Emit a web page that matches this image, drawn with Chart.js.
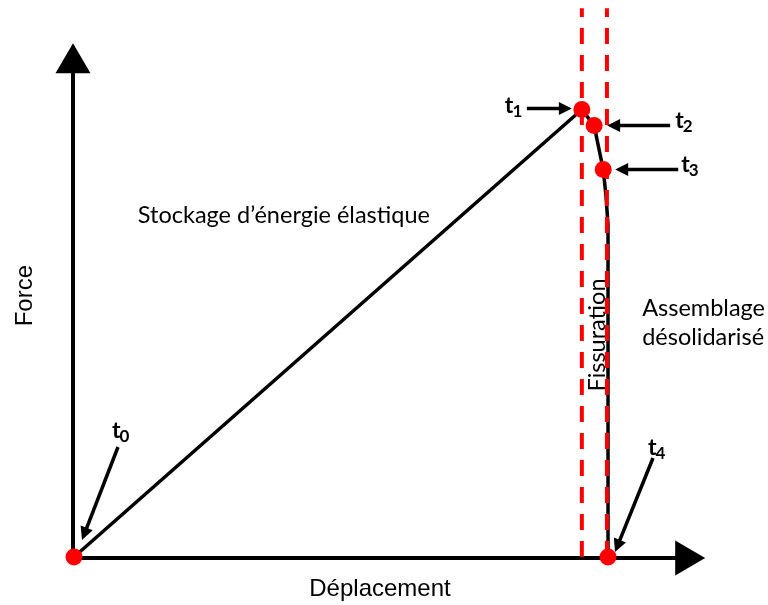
<!DOCTYPE html>
<html>
<head>
<meta charset="utf-8">
<script src="https://cdn.jsdelivr.net/npm/chart.js@4/dist/chart.umd.min.js"></script>
<style>
  html, body { margin: 0; padding: 0; background: #fff; }
  #wrap { width: 768px; height: 605px; }
</style>
</head>
<body>
<div id="wrap"><canvas id="c" width="768" height="605"></canvas></div>
<script>
// ---- Data (schematic, displacement and force in % of t4 / t1) ----
const displacement = [0, 95.1, 97.4, 99.1, 99.6, 100, 100];
const force        = [0, 100, 96.4, 86.6, 81.0, 74.3, 0];
const keyIndex     = [0, 1, 2, 3, 6];            // points t0..t4 on the curve
const keyLabels    = ['t0', 't1', 't2', 't3', 't4'];
const crackBounds  = [95.1, 99.8];               // "Fissuration" zone limits (displacement)
const axisEnds     = { x: 118.2, y: 114.8 };     // axis arrow tips
const crackTop     = 122.6;

const curvePts = displacement.map((d, i) => ({ x: d, y: force[i] }));
const keyPts = keyIndex.map(i => ({ x: displacement[i], y: force[i] }));

const crackSets = crackBounds.map(b => ({
  data: [{ x: b, y: 0 }, { x: b, y: crackTop }],
  showLine: true, borderColor: '#ff0000', borderWidth: 4,
  borderDash: [16, 11], pointRadius: 0, order: 1
}));

function arrow(ctx, x1, y1, x2, y2, w, hl, hw) {
  const a = Math.atan2(y2 - y1, x2 - x1);
  ctx.save();
  ctx.strokeStyle = '#000'; ctx.fillStyle = '#000'; ctx.lineWidth = w;
  ctx.beginPath();
  ctx.moveTo(x1, y1);
  ctx.lineTo(x2 - Math.cos(a) * hl * 0.8, y2 - Math.sin(a) * hl * 0.8);
  ctx.stroke();
  ctx.beginPath();
  ctx.moveTo(x2, y2);
  ctx.lineTo(x2 - Math.cos(a) * hl + Math.sin(a) * hw, y2 - Math.sin(a) * hl - Math.cos(a) * hw);
  ctx.lineTo(x2 - Math.cos(a) * hl - Math.sin(a) * hw, y2 - Math.sin(a) * hl + Math.cos(a) * hw);
  ctx.closePath();
  ctx.fill();
  ctx.restore();
}

// Axes with arrow heads
const axesPlugin = {
  id: 'axesArrows',
  beforeDatasetsDraw(chart) {
    const { ctx, scales: { x, y } } = chart;
    const ox = x.getPixelForValue(0) - 1, oy = y.getPixelForValue(0) + 1;
    const xt = x.getPixelForValue(axisEnds.x), yt = y.getPixelForValue(axisEnds.y);
    ctx.save();
    ctx.strokeStyle = '#000'; ctx.lineWidth = 4;
    ctx.beginPath();
    ctx.moveTo(ox, oy); ctx.lineTo(xt - 28, oy);
    ctx.moveTo(ox, oy); ctx.lineTo(ox, yt + 28);
    ctx.stroke();
    ctx.fillStyle = '#000';
    ctx.beginPath();
    ctx.moveTo(xt, oy); ctx.lineTo(xt - 30, oy - 17.5); ctx.lineTo(xt - 30, oy + 17.5); ctx.closePath();
    ctx.fill();
    ctx.beginPath();
    ctx.moveTo(ox, yt); ctx.lineTo(ox - 17.5, yt + 30); ctx.lineTo(ox + 17.5, yt + 30); ctx.closePath();
    ctx.fill();
    ctx.restore();
  }
};

// Key-point pointer arrows and labels (pixel offsets from each key point)
const pointerOffsets = [
  { tail: [44, -110], tip: [8, -17], label: [38, -119] },
  { tail: [-55, -1], tip: [-10, -1], label: [-77, 3] },
  { tail: [76, 0], tip: [13, 0], label: [81, 2] },
  { tail: [75, 0], tip: [12, 0], label: [78, 3] },
  { tail: [45, -99], tip: [7, -5], label: [40, -102] }
];

const textPlugin = {
  id: 'annotations',
  afterDraw(chart) {
    const { ctx, scales: { x, y } } = chart;
    ctx.save();
    keyPts.forEach((p, i) => {
      const px = x.getPixelForValue(p.x), py = y.getPixelForValue(p.y);
      const o = pointerOffsets[i];
      arrow(ctx, px + o.tail[0], py + o.tail[1], px + o.tip[0], py + o.tip[1], 3.5, 13, 6.5);
      const lx = px + o.label[0], ly = py + o.label[1];
      ctx.fillStyle = '#000';
      ctx.textAlign = 'left'; ctx.textBaseline = 'alphabetic';
      ctx.font = 'bold 23px Lato';
      ctx.fillText(keyLabels[i][0], lx, ly);
      const tw = ctx.measureText(keyLabels[i][0]).width;
      ctx.font = 'bold 17px Lato';
      ctx.fillText(keyLabels[i].slice(1), lx + tw - 1, ly + 4);
    });
    ctx.restore();
  }
};

const labelPlugin = {
  id: 'labels',
  afterDraw(chart) {
    const { ctx, scales: { x, y } } = chart;
    const ox = x.getPixelForValue(0);
    const oy = y.getPixelForValue(0);
    ctx.save();
    ctx.fillStyle = '#000';
    // Axis titles
    ctx.font = '24px "Liberation Sans"';
    ctx.textAlign = 'center'; ctx.textBaseline = 'alphabetic';
    ctx.fillText('Déplacement', x.getPixelForValue(57.3), oy + 39);
    ctx.save();
    ctx.translate(ox - 42, y.getPixelForValue(58.4));
    ctx.rotate(-Math.PI / 2);
    ctx.fillText('Force', 0, 0);
    ctx.restore();
    // Region labels
    ctx.font = '23.5px Lato';
    ctx.fillText('Stockage d\u2019énergie élastique', x.getPixelForValue(39.3), y.getPixelForValue(74.7));
    ctx.textAlign = 'left';
    ctx.fillText('Assemblage', x.getPixelForValue(106.4), y.getPixelForValue(53.9));
    ctx.fillText('désolidarisé', x.getPixelForValue(106.4), y.getPixelForValue(47.4));
    ctx.save();
    ctx.textAlign = 'center';
    ctx.translate(x.getPixelForValue(99.5), y.getPixelForValue(49.6));
    ctx.rotate(-Math.PI / 2);
    ctx.fillText('Fissuration', 0, 0);
    ctx.restore();
    ctx.restore();
  }
};

new Chart(document.getElementById('c'), {
  type: 'scatter',
  data: {
    datasets: [
      { data: keyPts, pointRadius: 8.5, pointHoverRadius: 8.5, pointBackgroundColor: '#ff0000',
        pointBorderWidth: 0, borderColor: '#ff0000', showLine: false, order: 0 },
      ...crackSets,
      { data: curvePts, showLine: true, borderColor: '#000', borderWidth: 3.5,
        pointRadius: 0, tension: 0, order: 2 }
    ]
  },
  options: {
    responsive: false,
    devicePixelRatio: 1,
    animation: false,
    layout: { padding: 0, autoPadding: false },
    plugins: { legend: { display: false }, tooltip: { enabled: false } },
    scales: {
      x: { type: 'linear', display: false, min: -13.858, max: 129.96 },
      y: { type: 'linear', display: false, min: -10.726, max: 124.47 }
    }
  },
  plugins: [axesPlugin, textPlugin, labelPlugin]
});
</script>
</body>
</html>
